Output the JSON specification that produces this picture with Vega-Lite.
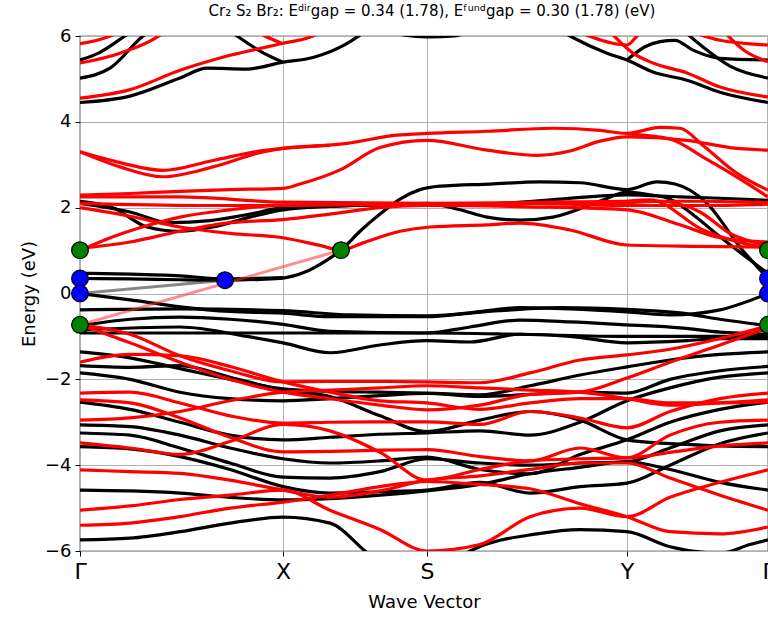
{
  "$schema": "https://vega.github.io/schema/vega-lite/v6.json",
  "width": 688,
  "height": 515,
  "autosize": {"type": "none"},
  "padding": {"left": 80, "top": 36, "right": 0, "bottom": 66},
  "background": "white",
  "title": {
    "text": "Cr₂ S₂ Br₂: Eᵈⁱʳgap = 0.34 (1.78), Eᶠᵘⁿᵈgap = 0.30 (1.78) (eV)",
    "fontSize": 15,
    "font": "DejaVu Sans",
    "fontWeight": "normal",
    "anchor": "middle",
    "offset": 8,
    "dx": 8,
    "color": "black"
  },
  "config": {
    "font": "DejaVu Sans",
    "view": {"stroke": "black", "strokeWidth": 1.2},
    "axis": {
      "domain": false,
      "grid": true,
      "gridColor": "#b0b0b0",
      "gridWidth": 1,
      "tickColor": "black",
      "tickSize": 5,
      "tickWidth": 1,
      "labelColor": "black",
      "titleColor": "black",
      "titleFontWeight": "normal",
      "labelFont": "DejaVu Sans",
      "titleFont": "DejaVu Sans"
    }
  },
  "datasets": {
    "bands": [
      {"b":"cbA","s":"b","k":0,"e":4.45},{"b":"cbA","s":"b","k":50,"e":4.6},{"b":"cbA","s":"b","k":100,"e":5.02},{"b":"cbA","s":"b","k":127,"e":5.25},{"b":"cbA","s":"b","k":167,"e":5.23},{"b":"cbA","s":"b","k":203,"e":5.39},{"b":"cbA","s":"b","k":233,"e":5.5},{"b":"cbA","s":"b","k":265,"e":5.8},{"b":"cbA","s":"b","k":285,"e":6.1},
      {"b":"cbB","s":"b","k":0,"e":5.02},{"b":"cbB","s":"b","k":30,"e":5.25},{"b":"cbB","s":"b","k":63,"e":6.0},{"b":"cbB","s":"b","k":75,"e":6.2},
      {"b":"cbC","s":"b","k":0,"e":5.44},{"b":"cbC","s":"b","k":20,"e":5.62},{"b":"cbC","s":"b","k":45,"e":6.0},{"b":"cbC","s":"b","k":55,"e":6.15},
      {"b":"cbD","s":"b","k":145,"e":6.2},{"b":"cbD","s":"b","k":157,"e":6.0},{"b":"cbD","s":"b","k":180,"e":5.65},{"b":"cbD","s":"b","k":203,"e":5.39},
      {"b":"cbE","s":"b","k":305,"e":6.2},{"b":"cbE","s":"b","k":325,"e":6.02},{"b":"cbE","s":"b","k":347,"e":5.98},{"b":"cbE","s":"b","k":375,"e":6.0},{"b":"cbE","s":"b","k":395,"e":6.2},
      {"b":"cbF","s":"b","k":475,"e":6.2},{"b":"cbF","s":"b","k":490,"e":6.0},{"b":"cbF","s":"b","k":527,"e":5.6},{"b":"cbF","s":"b","k":547,"e":5.44},{"b":"cbF","s":"b","k":573,"e":5.16},{"b":"cbF","s":"b","k":607,"e":4.97},{"b":"cbF","s":"b","k":640,"e":4.69},{"b":"cbF","s":"b","k":688,"e":4.45},
      {"b":"cbG","s":"b","k":547,"e":5.44},{"b":"cbG","s":"b","k":565,"e":5.75},{"b":"cbG","s":"b","k":580,"e":5.87},{"b":"cbG","s":"b","k":595,"e":5.9},{"b":"cbG","s":"b","k":613,"e":5.67},{"b":"cbG","s":"b","k":640,"e":5.48},{"b":"cbG","s":"b","k":688,"e":5.44},
      {"b":"cbH","s":"b","k":600,"e":6.2},{"b":"cbH","s":"b","k":620,"e":5.8},{"b":"cbH","s":"b","k":650,"e":5.3},{"b":"cbH","s":"b","k":688,"e":5.02},
      {"b":"bcb","s":"b","k":0,"e":0.35},{"b":"bcb","s":"b","k":50,"e":0.34},{"b":"bcb","s":"b","k":100,"e":0.32},{"b":"bcb","s":"b","k":145,"e":0.31},{"b":"bcb","s":"b","k":180,"e":0.33},{"b":"bcb","s":"b","k":203,"e":0.36},{"b":"bcb","s":"b","k":225,"e":0.5},{"b":"bcb","s":"b","k":245,"e":0.75},{"b":"bcb","s":"b","k":261,"e":1.01},{"b":"bcb","s":"b","k":280,"e":1.45},{"b":"bcb","s":"b","k":300,"e":1.85},{"b":"bcb","s":"b","k":320,"e":2.2},{"b":"bcb","s":"b","k":340,"e":2.42},{"b":"bcb","s":"b","k":360,"e":2.5},{"b":"bcb","s":"b","k":410,"e":2.55},{"b":"bcb","s":"b","k":460,"e":2.6},{"b":"bcb","s":"b","k":500,"e":2.58},{"b":"bcb","s":"b","k":547,"e":2.42},{"b":"bcb","s":"b","k":577,"e":2.6},{"b":"bcb","s":"b","k":595,"e":2.55},{"b":"bcb","s":"b","k":627,"e":2.1},{"b":"bcb","s":"b","k":660,"e":1.08},{"b":"bcb","s":"b","k":688,"e":0.35},
      {"b":"bcb2","s":"b","k":0,"e":0.47},{"b":"bcb2","s":"b","k":50,"e":0.45},{"b":"bcb2","s":"b","k":100,"e":0.41},{"b":"bcb2","s":"b","k":145,"e":0.34},{"b":"bcb2","s":"b","k":203,"e":0.37},
      {"b":"bc1","s":"b","k":0,"e":2.15},{"b":"bc1","s":"b","k":33,"e":2.0},{"b":"bc1","s":"b","k":67,"e":1.55},{"b":"bc1","s":"b","k":100,"e":1.45},{"b":"bc1","s":"b","k":133,"e":1.55},{"b":"bc1","s":"b","k":170,"e":1.78},{"b":"bc1","s":"b","k":203,"e":1.95},{"b":"bc1","s":"b","k":250,"e":2.03},{"b":"bc1","s":"b","k":300,"e":2.07},{"b":"bc1","s":"b","k":347,"e":2.1},{"b":"bc1","s":"b","k":380,"e":1.95},{"b":"bc1","s":"b","k":407,"e":1.78},{"b":"bc1","s":"b","k":440,"e":1.71},{"b":"bc1","s":"b","k":473,"e":1.78},{"b":"bc1","s":"b","k":523,"e":2.18},{"b":"bc1","s":"b","k":547,"e":2.36},{"b":"bc1","s":"b","k":570,"e":2.3},{"b":"bc1","s":"b","k":590,"e":2.2},{"b":"bc1","s":"b","k":615,"e":1.8},{"b":"bc1","s":"b","k":640,"e":1.32},{"b":"bc1","s":"b","k":688,"e":0.47},
      {"b":"bc2","s":"b","k":0,"e":2.1},{"b":"bc2","s":"b","k":50,"e":1.9},{"b":"bc2","s":"b","k":90,"e":1.65},{"b":"bc2","s":"b","k":130,"e":1.7},{"b":"bc2","s":"b","k":170,"e":1.85},{"b":"bc2","s":"b","k":203,"e":2.0},{"b":"bc2","s":"b","k":270,"e":2.05},{"b":"bc2","s":"b","k":347,"e":2.07},{"b":"bc2","s":"b","k":420,"e":2.1},{"b":"bc2","s":"b","k":480,"e":2.2},{"b":"bc2","s":"b","k":547,"e":2.3},{"b":"bc2","s":"b","k":600,"e":2.25},{"b":"bc2","s":"b","k":640,"e":2.22},{"b":"bc2","s":"b","k":688,"e":2.17},
      {"b":"bv1","s":"b","k":0,"e":0.0},{"b":"bv1","s":"b","k":50,"e":-0.15},{"b":"bv1","s":"b","k":100,"e":-0.31},{"b":"bv1","s":"b","k":150,"e":-0.42},{"b":"bv1","s":"b","k":203,"e":-0.46},{"b":"bv1","s":"b","k":250,"e":-0.54},{"b":"bv1","s":"b","k":347,"e":-0.54},{"b":"bv1","s":"b","k":390,"e":-0.45},{"b":"bv1","s":"b","k":440,"e":-0.33},{"b":"bv1","s":"b","k":490,"e":-0.36},{"b":"bv1","s":"b","k":547,"e":-0.43},{"b":"bv1","s":"b","k":590,"e":-0.5},{"b":"bv1","s":"b","k":640,"e":-0.38},{"b":"bv1","s":"b","k":688,"e":0.0},
      {"b":"bv2","s":"b","k":0,"e":-0.38},{"b":"bv2","s":"b","k":100,"e":-0.36},{"b":"bv2","s":"b","k":203,"e":-0.4},{"b":"bv2","s":"b","k":270,"e":-0.5},{"b":"bv2","s":"b","k":347,"e":-0.52},{"b":"bv2","s":"b","k":420,"e":-0.4},{"b":"bv2","s":"b","k":480,"e":-0.33},{"b":"bv2","s":"b","k":547,"e":-0.37},{"b":"bv2","s":"b","k":600,"e":-0.45},{"b":"bv2","s":"b","k":640,"e":-0.6},{"b":"bv2","s":"b","k":688,"e":-0.75},
      {"b":"bv3","s":"b","k":0,"e":-0.75},{"b":"bv3","s":"b","k":50,"e":-0.6},{"b":"bv3","s":"b","k":100,"e":-0.55},{"b":"bv3","s":"b","k":150,"e":-0.6},{"b":"bv3","s":"b","k":203,"e":-0.72},{"b":"bv3","s":"b","k":250,"e":-0.88},{"b":"bv3","s":"b","k":347,"e":-0.92},{"b":"bv3","s":"b","k":390,"e":-0.78},{"b":"bv3","s":"b","k":440,"e":-0.62},{"b":"bv3","s":"b","k":490,"e":-0.66},{"b":"bv3","s":"b","k":547,"e":-0.73},{"b":"bv3","s":"b","k":600,"e":-0.8},{"b":"bv3","s":"b","k":640,"e":-0.9},{"b":"bv3","s":"b","k":688,"e":-0.95},
      {"b":"bv4","s":"b","k":0,"e":-0.92},{"b":"bv4","s":"b","k":100,"e":-0.92},{"b":"bv4","s":"b","k":203,"e":-0.92},{"b":"bv4","s":"b","k":347,"e":-0.92},{"b":"bv4","s":"b","k":440,"e":-0.95},{"b":"bv4","s":"b","k":547,"e":-1.0},{"b":"bv4","s":"b","k":620,"e":-1.0},{"b":"bv4","s":"b","k":688,"e":-1.0},
      {"b":"bv5","s":"b","k":0,"e":-0.85},{"b":"bv5","s":"b","k":100,"e":-0.78},{"b":"bv5","s":"b","k":167,"e":-1.0},{"b":"bv5","s":"b","k":203,"e":-1.15},{"b":"bv5","s":"b","k":250,"e":-1.38},{"b":"bv5","s":"b","k":300,"e":-1.2},{"b":"bv5","s":"b","k":347,"e":-1.1},{"b":"bv5","s":"b","k":390,"e":-1.13},{"b":"bv5","s":"b","k":440,"e":-0.95},{"b":"bv5","s":"b","k":490,"e":-1.0},{"b":"bv5","s":"b","k":547,"e":-1.15},{"b":"bv5","s":"b","k":607,"e":-1.1},{"b":"bv5","s":"b","k":640,"e":-1.05},{"b":"bv5","s":"b","k":688,"e":-1.05},
      {"b":"KB1","s":"b","k":0,"e":-1.36},{"b":"KB1","s":"b","k":50,"e":-1.5},{"b":"KB1","s":"b","k":100,"e":-1.75},{"b":"KB1","s":"b","k":150,"e":-2.0},{"b":"KB1","s":"b","k":203,"e":-2.22},{"b":"KB1","s":"b","k":250,"e":-2.28},{"b":"KB1","s":"b","k":300,"e":-2.3},{"b":"KB1","s":"b","k":347,"e":-2.32},{"b":"KB1","s":"b","k":400,"e":-2.36},{"b":"KB1","s":"b","k":450,"e":-2.15},{"b":"KB1","s":"b","k":500,"e":-1.9},{"b":"KB1","s":"b","k":547,"e":-1.71},{"b":"KB1","s":"b","k":590,"e":-1.55},{"b":"KB1","s":"b","k":640,"e":-1.42},{"b":"KB1","s":"b","k":688,"e":-1.36},
      {"b":"KB2","s":"b","k":0,"e":-1.68},{"b":"KB2","s":"b","k":50,"e":-1.72},{"b":"KB2","s":"b","k":100,"e":-1.68},{"b":"KB2","s":"b","k":150,"e":-1.95},{"b":"KB2","s":"b","k":203,"e":-2.25},{"b":"KB2","s":"b","k":250,"e":-2.4},{"b":"KB2","s":"b","k":300,"e":-2.85},{"b":"KB2","s":"b","k":347,"e":-3.22},{"b":"KB2","s":"b","k":400,"e":-2.95},{"b":"KB2","s":"b","k":450,"e":-2.75},{"b":"KB2","s":"b","k":500,"e":-2.95},{"b":"KB2","s":"b","k":547,"e":-3.41},{"b":"KB2","s":"b","k":590,"e":-3.5},{"b":"KB2","s":"b","k":640,"e":-3.55},{"b":"KB2","s":"b","k":688,"e":-3.57},
      {"b":"KB3","s":"b","k":0,"e":-1.85},{"b":"KB3","s":"b","k":50,"e":-2.0},{"b":"KB3","s":"b","k":100,"e":-2.3},{"b":"KB3","s":"b","k":150,"e":-2.45},{"b":"KB3","s":"b","k":203,"e":-2.5},{"b":"KB3","s":"b","k":250,"e":-2.45},{"b":"KB3","s":"b","k":300,"e":-2.38},{"b":"KB3","s":"b","k":347,"e":-2.33},{"b":"KB3","s":"b","k":400,"e":-2.4},{"b":"KB3","s":"b","k":450,"e":-2.35},{"b":"KB3","s":"b","k":500,"e":-2.3},{"b":"KB3","s":"b","k":547,"e":-2.32},{"b":"KB3","s":"b","k":590,"e":-2.0},{"b":"KB3","s":"b","k":640,"e":-1.8},{"b":"KB3","s":"b","k":688,"e":-1.7},
      {"b":"KB4","s":"b","k":0,"e":-2.53},{"b":"KB4","s":"b","k":50,"e":-2.7},{"b":"KB4","s":"b","k":100,"e":-3.0},{"b":"KB4","s":"b","k":150,"e":-3.3},{"b":"KB4","s":"b","k":203,"e":-3.41},{"b":"KB4","s":"b","k":250,"e":-3.35},{"b":"KB4","s":"b","k":300,"e":-3.28},{"b":"KB4","s":"b","k":347,"e":-3.25},{"b":"KB4","s":"b","k":400,"e":-3.2},{"b":"KB4","s":"b","k":450,"e":-3.3},{"b":"KB4","s":"b","k":500,"e":-3.0},{"b":"KB4","s":"b","k":547,"e":-2.5},{"b":"KB4","s":"b","k":590,"e":-2.2},{"b":"KB4","s":"b","k":640,"e":-1.95},{"b":"KB4","s":"b","k":688,"e":-1.85},
      {"b":"KB5","s":"b","k":0,"e":-3.06},{"b":"KB5","s":"b","k":50,"e":-3.1},{"b":"KB5","s":"b","k":100,"e":-3.3},{"b":"KB5","s":"b","k":150,"e":-3.6},{"b":"KB5","s":"b","k":203,"e":-3.85},{"b":"KB5","s":"b","k":250,"e":-3.95},{"b":"KB5","s":"b","k":300,"e":-3.9},{"b":"KB5","s":"b","k":347,"e":-3.81},{"b":"KB5","s":"b","k":400,"e":-4.1},{"b":"KB5","s":"b","k":450,"e":-4.2},{"b":"KB5","s":"b","k":500,"e":-3.75},{"b":"KB5","s":"b","k":547,"e":-3.41},{"b":"KB5","s":"b","k":590,"e":-3.0},{"b":"KB5","s":"b","k":640,"e":-2.7},{"b":"KB5","s":"b","k":688,"e":-2.53},
      {"b":"KB6","s":"b","k":0,"e":-3.25},{"b":"KB6","s":"b","k":50,"e":-3.3},{"b":"KB6","s":"b","k":100,"e":-3.6},{"b":"KB6","s":"b","k":150,"e":-3.95},{"b":"KB6","s":"b","k":203,"e":-4.28},{"b":"KB6","s":"b","k":250,"e":-4.3},{"b":"KB6","s":"b","k":300,"e":-4.15},{"b":"KB6","s":"b","k":347,"e":-3.85},{"b":"KB6","s":"b","k":400,"e":-3.95},{"b":"KB6","s":"b","k":450,"e":-4.0},{"b":"KB6","s":"b","k":500,"e":-3.95},{"b":"KB6","s":"b","k":547,"e":-3.92},{"b":"KB6","s":"b","k":590,"e":-3.6},{"b":"KB6","s":"b","k":640,"e":-3.2},{"b":"KB6","s":"b","k":688,"e":-3.06},
      {"b":"KB7","s":"b","k":0,"e":-3.57},{"b":"KB7","s":"b","k":50,"e":-3.62},{"b":"KB7","s":"b","k":100,"e":-3.8},{"b":"KB7","s":"b","k":150,"e":-4.1},{"b":"KB7","s":"b","k":203,"e":-4.5},{"b":"KB7","s":"b","k":250,"e":-4.65},{"b":"KB7","s":"b","k":300,"e":-4.62},{"b":"KB7","s":"b","k":347,"e":-4.58},{"b":"KB7","s":"b","k":400,"e":-4.4},{"b":"KB7","s":"b","k":450,"e":-4.65},{"b":"KB7","s":"b","k":500,"e":-4.5},{"b":"KB7","s":"b","k":547,"e":-4.42},{"b":"KB7","s":"b","k":590,"e":-4.0},{"b":"KB7","s":"b","k":640,"e":-3.5},{"b":"KB7","s":"b","k":688,"e":-3.25},
      {"b":"KB8","s":"b","k":0,"e":-4.58},{"b":"KB8","s":"b","k":50,"e":-4.6},{"b":"KB8","s":"b","k":100,"e":-4.65},{"b":"KB8","s":"b","k":150,"e":-4.75},{"b":"KB8","s":"b","k":203,"e":-4.81},{"b":"KB8","s":"b","k":250,"e":-4.78},{"b":"KB8","s":"b","k":300,"e":-4.7},{"b":"KB8","s":"b","k":347,"e":-4.6},{"b":"KB8","s":"b","k":400,"e":-4.45},{"b":"KB8","s":"b","k":450,"e":-4.2},{"b":"KB8","s":"b","k":500,"e":-4.05},{"b":"KB8","s":"b","k":547,"e":-3.92},{"b":"KB8","s":"b","k":590,"e":-4.1},{"b":"KB8","s":"b","k":640,"e":-4.4},{"b":"KB8","s":"b","k":688,"e":-4.58},
      {"b":"KB9","s":"b","k":0,"e":-5.74},{"b":"KB9","s":"b","k":50,"e":-5.7},{"b":"KB9","s":"b","k":100,"e":-5.55},{"b":"KB9","s":"b","k":150,"e":-5.35},{"b":"KB9","s":"b","k":203,"e":-5.21},{"b":"KB9","s":"b","k":250,"e":-5.35},{"b":"KB9","s":"b","k":285,"e":-6.0},{"b":"KB9","s":"b","k":300,"e":-6.3},
      {"b":"KB10","s":"b","k":375,"e":-6.3},{"b":"KB10","s":"b","k":390,"e":-6.0},{"b":"KB10","s":"b","k":457,"e":-5.6},{"b":"KB10","s":"b","k":500,"e":-5.5},{"b":"KB10","s":"b","k":547,"e":-5.55},{"b":"KB10","s":"b","k":590,"e":-5.9},{"b":"KB10","s":"b","k":640,"e":-6.05},{"b":"KB10","s":"b","k":670,"e":-5.85},{"b":"KB10","s":"b","k":688,"e":-5.74},
      {"b":"rh1","s":"r","k":0,"e":5.82},{"b":"rh1","s":"r","k":20,"e":5.92},{"b":"rh1","s":"r","k":35,"e":6.05},{"b":"rh1","s":"r","k":45,"e":6.2},
      {"b":"rh2","s":"r","k":0,"e":5.37},{"b":"rh2","s":"r","k":40,"e":5.6},{"b":"rh2","s":"r","k":80,"e":6.02},{"b":"rh2","s":"r","k":90,"e":6.2},
      {"b":"rh3","s":"r","k":0,"e":4.55},{"b":"rh3","s":"r","k":50,"e":4.75},{"b":"rh3","s":"r","k":100,"e":5.2},{"b":"rh3","s":"r","k":150,"e":5.55},{"b":"rh3","s":"r","k":203,"e":5.83},{"b":"rh3","s":"r","k":235,"e":6.02},{"b":"rh3","s":"r","k":245,"e":6.2},
      {"b":"rh4","s":"r","k":170,"e":6.2},{"b":"rh4","s":"r","k":185,"e":6.0},{"b":"rh4","s":"r","k":203,"e":5.82},
      {"b":"rh5","s":"r","k":490,"e":6.2},{"b":"rh5","s":"r","k":507,"e":6.02},{"b":"rh5","s":"r","k":547,"e":5.79},{"b":"rh5","s":"r","k":557,"e":6.0},{"b":"rh5","s":"r","k":565,"e":6.2},
      {"b":"rh6","s":"r","k":530,"e":6.1},{"b":"rh6","s":"r","k":553,"e":5.6},{"b":"rh6","s":"r","k":573,"e":5.37},{"b":"rh6","s":"r","k":607,"e":5.14},{"b":"rh6","s":"r","k":640,"e":4.81},{"b":"rh6","s":"r","k":688,"e":4.58},
      {"b":"rh7","s":"r","k":600,"e":6.2},{"b":"rh7","s":"r","k":640,"e":5.9},{"b":"rh7","s":"r","k":688,"e":5.79},
      {"b":"rh8","s":"r","k":640,"e":6.2},{"b":"rh8","s":"r","k":665,"e":5.65},{"b":"rh8","s":"r","k":688,"e":5.4},
      {"b":"rc1","s":"r","k":0,"e":3.3},{"b":"rc1","s":"r","k":40,"e":3.05},{"b":"rc1","s":"r","k":83,"e":2.87},{"b":"rc1","s":"r","k":133,"e":3.1},{"b":"rc1","s":"r","k":183,"e":3.33},{"b":"rc1","s":"r","k":203,"e":3.38},{"b":"rc1","s":"r","k":267,"e":3.5},{"b":"rc1","s":"r","k":317,"e":3.69},{"b":"rc1","s":"r","k":347,"e":3.73},{"b":"rc1","s":"r","k":407,"e":3.78},{"b":"rc1","s":"r","k":473,"e":3.85},{"b":"rc1","s":"r","k":520,"e":3.8},{"b":"rc1","s":"r","k":547,"e":3.73},{"b":"rc1","s":"r","k":580,"e":3.87},{"b":"rc1","s":"r","k":600,"e":3.85},{"b":"rc1","s":"r","k":623,"e":3.45},{"b":"rc1","s":"r","k":657,"e":2.8},{"b":"rc1","s":"r","k":688,"e":2.41},
      {"b":"rc2","s":"r","k":0,"e":3.3},{"b":"rc2","s":"r","k":40,"e":2.95},{"b":"rc2","s":"r","k":83,"e":2.72},{"b":"rc2","s":"r","k":133,"e":2.95},{"b":"rc2","s":"r","k":183,"e":3.3},{"b":"rc2","s":"r","k":203,"e":3.38},{"b":"rc2","s":"r","k":250,"e":3.45},
      {"b":"rc3","s":"r","k":0,"e":2.29},{"b":"rc3","s":"r","k":50,"e":2.33},{"b":"rc3","s":"r","k":100,"e":2.38},{"b":"rc3","s":"r","k":150,"e":2.42},{"b":"rc3","s":"r","k":203,"e":2.45},{"b":"rc3","s":"r","k":220,"e":2.55},{"b":"rc3","s":"r","k":260,"e":2.88},{"b":"rc3","s":"r","k":300,"e":3.4},{"b":"rc3","s":"r","k":347,"e":3.57},{"b":"rc3","s":"r","k":407,"e":3.34},{"b":"rc3","s":"r","k":457,"e":3.22},{"b":"rc3","s":"r","k":490,"e":3.32},{"b":"rc3","s":"r","k":520,"e":3.55},{"b":"rc3","s":"r","k":547,"e":3.65},{"b":"rc3","s":"r","k":607,"e":3.57},{"b":"rc3","s":"r","k":650,"e":3.4},{"b":"rc3","s":"r","k":688,"e":3.34},
      {"b":"rc4","s":"r","k":547,"e":3.72},{"b":"rc4","s":"r","k":590,"e":3.6},{"b":"rc4","s":"r","k":623,"e":3.18},{"b":"rc4","s":"r","k":673,"e":2.48},{"b":"rc4","s":"r","k":688,"e":2.25},
      {"b":"rb","s":"r","k":0,"e":2.25},{"b":"rb","s":"r","k":100,"e":2.25},{"b":"rb","s":"r","k":203,"e":2.13},{"b":"rb","s":"r","k":347,"e":2.1},{"b":"rb","s":"r","k":447,"e":2.12},{"b":"rb","s":"r","k":547,"e":2.15},{"b":"rb","s":"r","k":620,"e":2.15},{"b":"rb","s":"r","k":688,"e":2.12},
      {"b":"rcc","s":"r","k":0,"e":2.1},{"b":"rcc","s":"r","k":120,"e":2.05},{"b":"rcc","s":"r","k":203,"e":2.05},{"b":"rcc","s":"r","k":347,"e":2.08},{"b":"rcc","s":"r","k":447,"e":2.1},{"b":"rcc","s":"r","k":547,"e":2.05},{"b":"rcc","s":"r","k":620,"e":2.05},{"b":"rcc","s":"r","k":688,"e":2.08},
      {"b":"re","s":"r","k":0,"e":2.0},{"b":"re","s":"r","k":50,"e":1.8},{"b":"re","s":"r","k":100,"e":1.55},{"b":"re","s":"r","k":150,"e":1.4},{"b":"re","s":"r","k":203,"e":1.3},{"b":"re","s":"r","k":240,"e":1.12},{"b":"re","s":"r","k":261,"e":1.01},{"b":"re","s":"r","k":283,"e":1.18},{"b":"re","s":"r","k":320,"e":1.45},{"b":"re","s":"r","k":350,"e":1.55},{"b":"re","s":"r","k":407,"e":1.6},{"b":"re","s":"r","k":440,"e":1.64},{"b":"re","s":"r","k":490,"e":1.48},{"b":"re","s":"r","k":547,"e":1.13},{"b":"re","s":"r","k":620,"e":1.1},{"b":"re","s":"r","k":688,"e":1.08},
      {"b":"rf","s":"r","k":0,"e":1.0},{"b":"rf","s":"r","k":33,"e":1.32},{"b":"rf","s":"r","k":70,"e":1.6},{"b":"rf","s":"r","k":100,"e":1.78},{"b":"rf","s":"r","k":150,"e":1.95},{"b":"rf","s":"r","k":203,"e":2.06},{"b":"rf","s":"r","k":270,"e":2.08},{"b":"rf","s":"r","k":347,"e":2.08},{"b":"rf","s":"r","k":447,"e":2.1},{"b":"rf","s":"r","k":547,"e":2.12},{"b":"rf","s":"r","k":580,"e":2.15},{"b":"rf","s":"r","k":620,"e":1.9},{"b":"rf","s":"r","k":650,"e":1.4},{"b":"rf","s":"r","k":688,"e":1.12},
      {"b":"rg","s":"r","k":0,"e":1.05},{"b":"rg","s":"r","k":50,"e":1.2},{"b":"rg","s":"r","k":100,"e":1.45},{"b":"rg","s":"r","k":150,"e":1.65},{"b":"rg","s":"r","k":203,"e":1.72},{"b":"rg","s":"r","k":250,"e":1.85},{"b":"rg","s":"r","k":300,"e":2.0},{"b":"rg","s":"r","k":347,"e":2.05},{"b":"rg","s":"r","k":450,"e":2.02},{"b":"rg","s":"r","k":547,"e":1.95},{"b":"rg","s":"r","k":600,"e":1.6},{"b":"rg","s":"r","k":640,"e":1.3},{"b":"rg","s":"r","k":688,"e":1.2},
      {"b":"rhh","s":"r","k":547,"e":2.15},{"b":"rhh","s":"r","k":570,"e":2.18},{"b":"rhh","s":"r","k":623,"e":1.48},{"b":"rhh","s":"r","k":688,"e":1.05},
      {"b":"KR1","s":"r","k":0,"e":-0.73},{"b":"KR1","s":"r","k":50,"e":-0.95},{"b":"KR1","s":"r","k":100,"e":-1.45},{"b":"KR1","s":"r","k":150,"e":-1.8},{"b":"KR1","s":"r","k":203,"e":-2.06},{"b":"KR1","s":"r","k":250,"e":-2.05},{"b":"KR1","s":"r","k":300,"e":-2.05},{"b":"KR1","s":"r","k":347,"e":-2.06},{"b":"KR1","s":"r","k":400,"e":-2.08},{"b":"KR1","s":"r","k":450,"e":-1.85},{"b":"KR1","s":"r","k":500,"e":-1.55},{"b":"KR1","s":"r","k":547,"e":-1.43},{"b":"KR1","s":"r","k":590,"e":-1.3},{"b":"KR1","s":"r","k":640,"e":-1.05},{"b":"KR1","s":"r","k":688,"e":-0.75},
      {"b":"KR2","s":"r","k":0,"e":-0.73},{"b":"KR2","s":"r","k":50,"e":-1.15},{"b":"KR2","s":"r","k":100,"e":-1.6},{"b":"KR2","s":"r","k":150,"e":-2.0},{"b":"KR2","s":"r","k":203,"e":-2.3},{"b":"KR2","s":"r","k":250,"e":-2.45},{"b":"KR2","s":"r","k":300,"e":-2.6},{"b":"KR2","s":"r","k":347,"e":-2.71},{"b":"KR2","s":"r","k":400,"e":-2.6},{"b":"KR2","s":"r","k":450,"e":-2.35},{"b":"KR2","s":"r","k":500,"e":-2.3},{"b":"KR2","s":"r","k":547,"e":-1.97},{"b":"KR2","s":"r","k":590,"e":-1.6},{"b":"KR2","s":"r","k":640,"e":-1.2},{"b":"KR2","s":"r","k":688,"e":-0.8},
      {"b":"KR3","s":"r","k":0,"e":-1.6},{"b":"KR3","s":"r","k":50,"e":-1.42},{"b":"KR3","s":"r","k":100,"e":-1.45},{"b":"KR3","s":"r","k":150,"e":-1.7},{"b":"KR3","s":"r","k":203,"e":-2.06},{"b":"KR3","s":"r","k":250,"e":-2.3},{"b":"KR3","s":"r","k":300,"e":-2.5},{"b":"KR3","s":"r","k":347,"e":-2.55},{"b":"KR3","s":"r","k":400,"e":-2.7},{"b":"KR3","s":"r","k":450,"e":-2.55},{"b":"KR3","s":"r","k":500,"e":-2.45},{"b":"KR3","s":"r","k":547,"e":-2.45},{"b":"KR3","s":"r","k":590,"e":-2.55},{"b":"KR3","s":"r","k":640,"e":-2.55},{"b":"KR3","s":"r","k":688,"e":-2.53},
      {"b":"KR4","s":"r","k":0,"e":-2.32},{"b":"KR4","s":"r","k":50,"e":-2.3},{"b":"KR4","s":"r","k":100,"e":-2.55},{"b":"KR4","s":"r","k":150,"e":-2.85},{"b":"KR4","s":"r","k":203,"e":-3.02},{"b":"KR4","s":"r","k":250,"e":-3.0},{"b":"KR4","s":"r","k":300,"e":-2.99},{"b":"KR4","s":"r","k":347,"e":-2.99},{"b":"KR4","s":"r","k":400,"e":-3.05},{"b":"KR4","s":"r","k":450,"e":-2.75},{"b":"KR4","s":"r","k":500,"e":-2.9},{"b":"KR4","s":"r","k":547,"e":-3.13},{"b":"KR4","s":"r","k":590,"e":-2.75},{"b":"KR4","s":"r","k":640,"e":-2.45},{"b":"KR4","s":"r","k":688,"e":-2.32},
      {"b":"KR5","s":"r","k":0,"e":-2.48},{"b":"KR5","s":"r","k":50,"e":-2.55},{"b":"KR5","s":"r","k":100,"e":-2.9},{"b":"KR5","s":"r","k":150,"e":-3.35},{"b":"KR5","s":"r","k":203,"e":-3.69},{"b":"KR5","s":"r","k":250,"e":-3.68},{"b":"KR5","s":"r","k":300,"e":-3.65},{"b":"KR5","s":"r","k":347,"e":-3.64},{"b":"KR5","s":"r","k":400,"e":-3.8},{"b":"KR5","s":"r","k":450,"e":-3.9},{"b":"KR5","s":"r","k":500,"e":-3.6},{"b":"KR5","s":"r","k":547,"e":-3.83},{"b":"KR5","s":"r","k":590,"e":-3.7},{"b":"KR5","s":"r","k":640,"e":-3.55},{"b":"KR5","s":"r","k":688,"e":-3.48},
      {"b":"KR6","s":"r","k":0,"e":-3.48},{"b":"KR6","s":"r","k":50,"e":-3.6},{"b":"KR6","s":"r","k":100,"e":-3.75},{"b":"KR6","s":"r","k":150,"e":-3.45},{"b":"KR6","s":"r","k":203,"e":-3.05},{"b":"KR6","s":"r","k":250,"e":-3.2},{"b":"KR6","s":"r","k":300,"e":-3.7},{"b":"KR6","s":"r","k":347,"e":-4.35},{"b":"KR6","s":"r","k":400,"e":-4.1},{"b":"KR6","s":"r","k":450,"e":-3.9},{"b":"KR6","s":"r","k":500,"e":-3.85},{"b":"KR6","s":"r","k":547,"e":-3.83},{"b":"KR6","s":"r","k":590,"e":-3.3},{"b":"KR6","s":"r","k":640,"e":-3.0},{"b":"KR6","s":"r","k":688,"e":-2.95},
      {"b":"KR7","s":"r","k":0,"e":-4.11},{"b":"KR7","s":"r","k":50,"e":-4.15},{"b":"KR7","s":"r","k":100,"e":-4.19},{"b":"KR7","s":"r","k":150,"e":-4.35},{"b":"KR7","s":"r","k":203,"e":-4.58},{"b":"KR7","s":"r","k":250,"e":-4.75},{"b":"KR7","s":"r","k":300,"e":-4.6},{"b":"KR7","s":"r","k":347,"e":-4.35},{"b":"KR7","s":"r","k":400,"e":-4.25},{"b":"KR7","s":"r","k":450,"e":-4.1},{"b":"KR7","s":"r","k":500,"e":-3.95},{"b":"KR7","s":"r","k":547,"e":-3.95},{"b":"KR7","s":"r","k":590,"e":-4.3},{"b":"KR7","s":"r","k":640,"e":-4.7},{"b":"KR7","s":"r","k":688,"e":-5.05},
      {"b":"KR8","s":"r","k":0,"e":-5.05},{"b":"KR8","s":"r","k":50,"e":-4.95},{"b":"KR8","s":"r","k":100,"e":-4.8},{"b":"KR8","s":"r","k":150,"e":-4.7},{"b":"KR8","s":"r","k":203,"e":-4.58},{"b":"KR8","s":"r","k":250,"e":-5.05},{"b":"KR8","s":"r","k":300,"e":-5.5},{"b":"KR8","s":"r","k":347,"e":-6.0},{"b":"KR8","s":"r","k":400,"e":-5.85},{"b":"KR8","s":"r","k":450,"e":-5.2},{"b":"KR8","s":"r","k":500,"e":-5.0},{"b":"KR8","s":"r","k":547,"e":-5.2},{"b":"KR8","s":"r","k":590,"e":-4.75},{"b":"KR8","s":"r","k":640,"e":-4.4},{"b":"KR8","s":"r","k":688,"e":-4.11},
      {"b":"KR9","s":"r","k":0,"e":-5.4},{"b":"KR9","s":"r","k":50,"e":-5.35},{"b":"KR9","s":"r","k":100,"e":-5.2},{"b":"KR9","s":"r","k":150,"e":-5.0},{"b":"KR9","s":"r","k":203,"e":-4.86},{"b":"KR9","s":"r","k":250,"e":-4.7},{"b":"KR9","s":"r","k":300,"e":-4.5},{"b":"KR9","s":"r","k":347,"e":-4.38},{"b":"KR9","s":"r","k":400,"e":-4.45},{"b":"KR9","s":"r","k":450,"e":-4.55},{"b":"KR9","s":"r","k":500,"e":-4.9},{"b":"KR9","s":"r","k":547,"e":-5.2},{"b":"KR9","s":"r","k":590,"e":-5.55},{"b":"KR9","s":"r","k":640,"e":-5.6},{"b":"KR9","s":"r","k":688,"e":-5.44},
      {"b":"KR10","s":"r","k":0,"e":-2.95},{"b":"KR10","s":"r","k":50,"e":-2.9},{"b":"KR10","s":"r","k":100,"e":-2.75},{"b":"KR10","s":"r","k":150,"e":-2.5},{"b":"KR10","s":"r","k":203,"e":-2.3},{"b":"KR10","s":"r","k":250,"e":-2.25},{"b":"KR10","s":"r","k":300,"e":-2.2},{"b":"KR10","s":"r","k":347,"e":-2.15},{"b":"KR10","s":"r","k":400,"e":-2.2},{"b":"KR10","s":"r","k":450,"e":-2.25},{"b":"KR10","s":"r","k":500,"e":-2.3},{"b":"KR10","s":"r","k":547,"e":-2.45},{"b":"KR10","s":"r","k":590,"e":-2.6},{"b":"KR10","s":"r","k":640,"e":-2.55},{"b":"KR10","s":"r","k":688,"e":-2.48}
    ],
    "arrows": [
      {"a":"fund","k":0,"e":0.0},{"a":"fund","k":145,"e":0.31},
      {"a":"dir","k":0,"e":-0.73},{"a":"dir","k":261,"e":1.01}
    ],
    "marks": [
      {"t":"dir","k":0,"e":1.01},{"t":"dir","k":0,"e":-0.73},{"t":"dir","k":261,"e":1.01},{"t":"dir","k":688,"e":1.01},{"t":"dir","k":688,"e":-0.73},
      {"t":"fund","k":0,"e":0.35},{"t":"fund","k":0,"e":0.0},{"t":"fund","k":145,"e":0.31},{"t":"fund","k":688,"e":0.35},{"t":"fund","k":688,"e":0.0}
    ]
  },
  "encoding": {
    "x": {
      "field": "k", "type": "quantitative",
      "scale": {"domain": [0, 688], "nice": false, "zero": false},
      "axis": {
        "title": "Wave Vector", "titleFontSize": 18, "titlePadding": 11,
        "values": [0, 203, 347, 547, 688],
        "labelExpr": "datum.value == 0 ? 'Γ' : datum.value == 203 ? 'X' : datum.value == 347 ? 'S' : datum.value == 547 ? 'Y' : 'Γ'",
        "labelFontSize": 22, "labelPadding": 5, "labelFlush": false, "labelOverlap": false
      }
    },
    "y": {
      "field": "e", "type": "quantitative",
      "scale": {"domain": [-6, 6], "nice": false, "zero": false},
      "axis": {
        "title": "Energy (eV)", "titleFontSize": 18, "titlePadding": 6,
        "values": [-6, -4, -2, 0, 2, 4, 6],
        "labelExpr": "datum.value < 0 ? '−' + abs(datum.value) : datum.label",
        "labelFontSize": 18, "labelPadding": 4, "labelFlush": false, "labelOverlap": false
      }
    }
  },
  "layer": [
    {
      "data": {"name": "bands"},
      "transform": [{"filter": "datum.s == 'b'"}],
      "mark": {"type": "line", "color": "black", "strokeWidth": 3.2, "interpolate": "monotone", "clip": true},
      "encoding": {"detail": {"field": "b"}}
    },
    {
      "data": {"name": "bands"},
      "transform": [{"filter": "datum.s == 'r'"}],
      "mark": {"type": "line", "color": "#ff0000", "strokeWidth": 3.2, "interpolate": "monotone", "clip": true},
      "encoding": {"detail": {"field": "b"}}
    },
    {
      "data": {"name": "arrows"},
      "mark": {"type": "line", "strokeWidth": 3, "opacity": 0.55, "clip": true},
      "encoding": {
        "detail": {"field": "a"},
        "color": {"field": "a", "type": "nominal", "scale": {"domain": ["fund", "dir"], "range": ["#222222", "#ff3030"]}, "legend": null}
      }
    },
    {
      "data": {"name": "marks"},
      "mark": {"type": "point", "shape": "circle", "filled": true, "size": 280, "stroke": "black", "strokeWidth": 1.2, "opacity": 1},
      "encoding": {
        "fill": {"field": "t", "type": "nominal", "scale": {"domain": ["fund", "dir"], "range": ["#0000ff", "#008000"]}, "legend": null}
      }
    }
  ]
}
